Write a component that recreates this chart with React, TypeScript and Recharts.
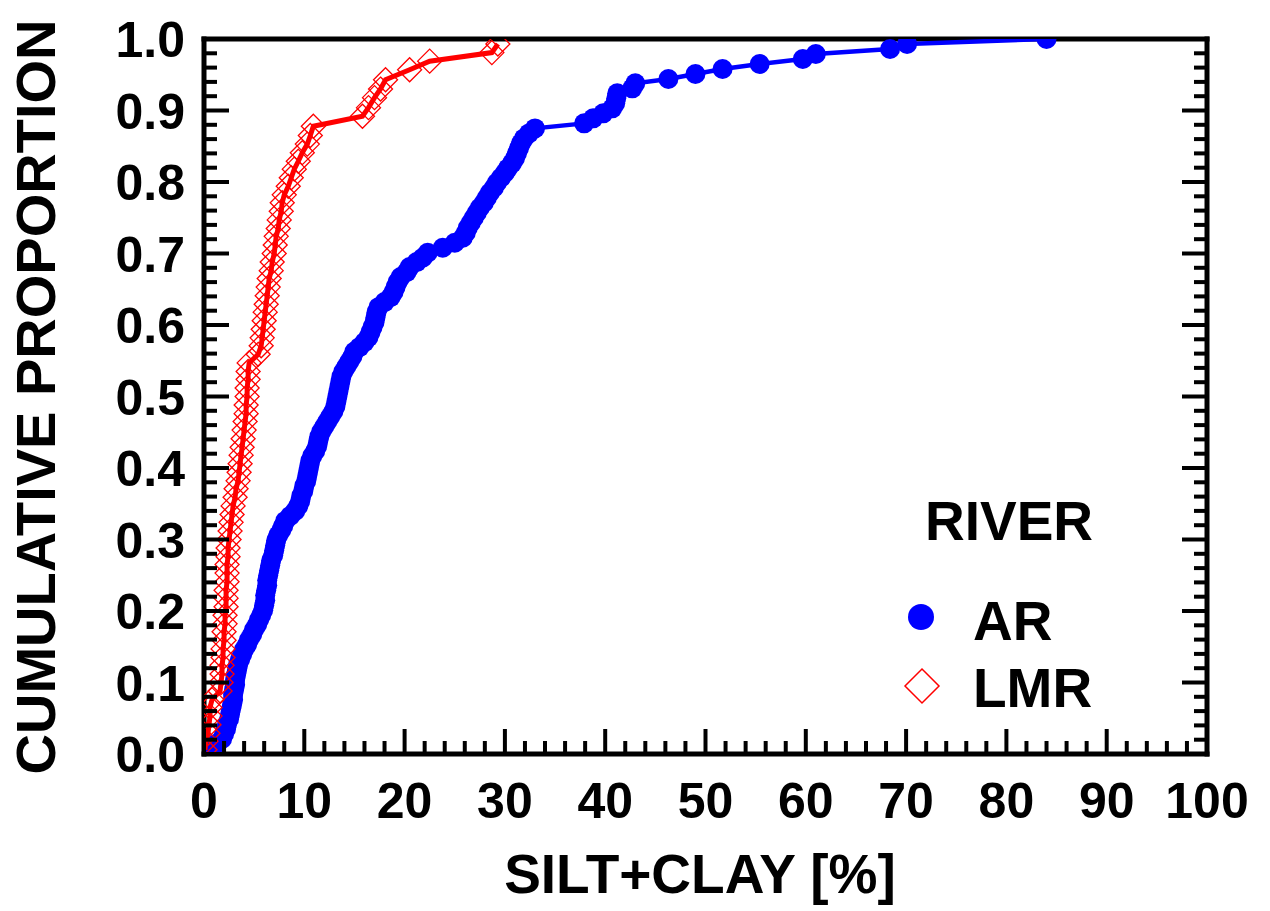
import { ScatterChart, Scatter, XAxis, YAxis, Label, Legend } from 'recharts';

// Cumulative distribution of silt+clay content by river
// AR  = filled blue circles, LMR = open red diamonds

const W = 1270;
const H = 911;
// plot box (px) — chosen to sit where the reference frame is
const LEFT = 204;
const RIGHT = 1207;
const TOP = 39;
const BOTTOM = 754;
// axis band sizes (must be > 0 or recharts skips drawing the axis)
const AX_B = 100;
const AX_T = 10;
const AX_L = 150;
const AX_R = 10;

const FONT = '"Liberation Sans", Arial, Helvetica, sans-serif';
const BLUE = '#0000ff';
const RED = '#ff0000';

const X_TICKS = Array.from({ length: 51 }, (_, i) => i * 2);
const Y_TICKS = Array.from({ length: 51 }, (_, i) => +(i * 0.02).toFixed(2));

// [silt+clay %, cumulative proportion]
const AR: [number, number][] = [
  [0.3, 0.007], [1.2, 0.014], [1.8, 0.021], [2.0, 0.028], [2.2, 0.035], [2.3, 0.042],
  [2.5, 0.049], [2.6, 0.056], [2.7, 0.063], [2.8, 0.069], [2.9, 0.076], [2.9, 0.083],
  [3.0, 0.09], [3.1, 0.097], [3.1, 0.104], [3.2, 0.111], [3.3, 0.118], [3.4, 0.125],
  [3.6, 0.132], [3.8, 0.139], [4.0, 0.146], [4.3, 0.153], [4.5, 0.16], [4.8, 0.167],
  [5.0, 0.174], [5.3, 0.181], [5.5, 0.188], [5.7, 0.194], [5.9, 0.201], [6.0, 0.208],
  [6.1, 0.215], [6.1, 0.222], [6.2, 0.229], [6.3, 0.236], [6.3, 0.243], [6.4, 0.25],
  [6.5, 0.257], [6.6, 0.264], [6.7, 0.271], [6.9, 0.278], [7.0, 0.285], [7.1, 0.292],
  [7.2, 0.299], [7.4, 0.306], [7.7, 0.313], [7.9, 0.319], [8.1, 0.326], [8.6, 0.333],
  [9.1, 0.34], [9.4, 0.347], [9.6, 0.354], [9.7, 0.361], [9.9, 0.368], [10.0, 0.375],
  [10.2, 0.382], [10.3, 0.389], [10.4, 0.396], [10.5, 0.403], [10.6, 0.41], [10.8, 0.417],
  [11.1, 0.424], [11.3, 0.431], [11.4, 0.438], [11.5, 0.444], [11.7, 0.451], [12.0, 0.458],
  [12.3, 0.465], [12.6, 0.472], [12.9, 0.479], [13.1, 0.486], [13.2, 0.493], [13.3, 0.5],
  [13.4, 0.507], [13.5, 0.514], [13.6, 0.521], [13.7, 0.528], [13.9, 0.535], [14.2, 0.542],
  [14.5, 0.549], [14.8, 0.556], [15.0, 0.563], [15.5, 0.569], [16.0, 0.576], [16.4, 0.583],
  [16.6, 0.59], [16.8, 0.597], [17.0, 0.604], [17.1, 0.611], [17.2, 0.618], [17.4, 0.625],
  [18.0, 0.632], [18.6, 0.639], [18.9, 0.646], [19.1, 0.653], [19.3, 0.66], [19.6, 0.667],
  [20.2, 0.674], [20.5, 0.681], [21.2, 0.688], [21.8, 0.694], [22.3, 0.701], [23.8, 0.708],
  [25.0, 0.715], [25.8, 0.722], [26.1, 0.729], [26.3, 0.736], [26.6, 0.743], [26.9, 0.75],
  [27.2, 0.757], [27.5, 0.764], [27.9, 0.771], [28.2, 0.778], [28.5, 0.785], [28.9, 0.792],
  [29.2, 0.799], [29.6, 0.806], [30.0, 0.813], [30.3, 0.819], [30.7, 0.826], [31.0, 0.833],
  [31.2, 0.84], [31.4, 0.847], [31.6, 0.854], [31.9, 0.861], [32.4, 0.868], [33.0, 0.875],
  [37.9, 0.882], [38.8, 0.889], [39.8, 0.896], [40.7, 0.903], [41.0, 0.91], [41.1, 0.917],
  [41.2, 0.924], [42.7, 0.931], [43.0, 0.938], [46.3, 0.944], [49.0, 0.951], [51.7, 0.958],
  [55.4, 0.965], [59.7, 0.972], [61.0, 0.979], [68.4, 0.986], [70.1, 0.993], [84.0, 1.0],
];

const LMR: [number, number][] = [
  [0.1, 0.006], [0.2, 0.018], [0.4, 0.029], [0.5, 0.041], [0.6, 0.053], [0.6, 0.065],
  [0.8, 0.076], [1.6, 0.088], [1.7, 0.1], [1.8, 0.112], [1.8, 0.124], [1.9, 0.135],
  [1.9, 0.147], [2.0, 0.159], [2.0, 0.171], [2.1, 0.182], [2.1, 0.194], [2.2, 0.206],
  [2.2, 0.218], [2.2, 0.229], [2.3, 0.241], [2.3, 0.253], [2.3, 0.265], [2.4, 0.276],
  [2.4, 0.288], [2.5, 0.3], [2.6, 0.312], [2.7, 0.324], [2.8, 0.335], [2.9, 0.347],
  [3.1, 0.359], [3.2, 0.371], [3.4, 0.382], [3.5, 0.394], [3.6, 0.406], [3.7, 0.418],
  [3.8, 0.429], [3.9, 0.441], [4.0, 0.453], [4.1, 0.465], [4.2, 0.476], [4.2, 0.488],
  [4.3, 0.5], [4.3, 0.512], [4.4, 0.524], [4.4, 0.535], [4.5, 0.547], [5.4, 0.559],
  [5.7, 0.571], [5.8, 0.582], [5.9, 0.594], [6.0, 0.606], [6.1, 0.618], [6.2, 0.629],
  [6.3, 0.641], [6.4, 0.653], [6.5, 0.665], [6.7, 0.676], [6.8, 0.688], [7.0, 0.7],
  [7.1, 0.712], [7.2, 0.724], [7.4, 0.735], [7.5, 0.747], [7.7, 0.759], [7.8, 0.771],
  [8.0, 0.782], [8.4, 0.794], [8.7, 0.806], [9.0, 0.818], [9.4, 0.829], [9.8, 0.841],
  [10.3, 0.853], [10.6, 0.865], [10.9, 0.878], [15.8, 0.892], [16.4, 0.904], [17.0, 0.918],
  [17.6, 0.93], [18.1, 0.943], [20.5, 0.957], [22.5, 0.969], [28.7, 0.981], [29.3, 0.993],
];

const arData = AR.map(([x, y]) => ({ x, y }));
const lmrData = LMR.map(([x, y]) => ({ x, y }));

const MAJOR_LEN = 25;
const MINOR_LEN = 13;
const TICK_W = 4;

const isMajorX = (v: number) => v % 10 === 0;
const isMajorY = (v: number) => Math.round(v * 100) % 10 === 0;

// Ticks point into the plot; labels sit outside (bottom / left only)
// eslint-disable-next-line @typescript-eslint/no-explicit-any
function BottomTick({ x, payload }: any) {
  const v = payload.value as number;
  const major = isMajorX(v);
  return (
    <g>
      <line x1={x} y1={BOTTOM} x2={x} y2={BOTTOM - (major ? MAJOR_LEN : MINOR_LEN)} stroke="#000" strokeWidth={TICK_W} />
      {major && (
        <text x={x} y={BOTTOM + 64} textAnchor="middle" fontSize={50} fontWeight="bold" fontFamily={FONT} fill="#000">
          {v}
        </text>
      )}
    </g>
  );
}

// eslint-disable-next-line @typescript-eslint/no-explicit-any
function TopTick({ x, payload }: any) {
  const major = isMajorX(payload.value);
  return <line x1={x} y1={TOP} x2={x} y2={TOP + (major ? MAJOR_LEN : MINOR_LEN)} stroke="#000" strokeWidth={TICK_W} />;
}

// eslint-disable-next-line @typescript-eslint/no-explicit-any
function LeftTick({ y, payload }: any) {
  const v = payload.value as number;
  const major = isMajorY(v);
  return (
    <g>
      <line x1={LEFT} y1={y} x2={LEFT + (major ? MAJOR_LEN : MINOR_LEN)} y2={y} stroke="#000" strokeWidth={TICK_W} />
      {major && (
        <text x={LEFT - 19} y={y + 18} textAnchor="end" fontSize={50} fontWeight="bold" fontFamily={FONT} fill="#000">
          {v.toFixed(1)}
        </text>
      )}
    </g>
  );
}

// eslint-disable-next-line @typescript-eslint/no-explicit-any
function RightTick({ y, payload }: any) {
  const major = isMajorY(payload.value);
  return <line x1={RIGHT} y1={y} x2={RIGHT - (major ? MAJOR_LEN : MINOR_LEN)} y2={y} stroke="#000" strokeWidth={TICK_W} />;
}

// eslint-disable-next-line @typescript-eslint/no-explicit-any
const Dot = ({ cx, cy }: any) => <circle cx={cx} cy={cy} r={10} fill={BLUE} />;

// eslint-disable-next-line @typescript-eslint/no-explicit-any
const Diamond = ({ cx, cy }: any) => (
  <polygon
    points={`${cx},${cy - 12} ${cx + 12},${cy} ${cx},${cy + 12} ${cx - 12},${cy}`}
    fill="none"
    stroke={RED}
    strokeWidth={1.3}
  />
);

function RiverLegend() {
  const txt = { fontSize: 55, fontWeight: 'bold' as const, fontFamily: FONT, fill: '#000' };
  return (
    <svg width={220} height={250}>
      <text x={35} y={60} {...txt}>RIVER</text>
      <circle cx={31} cy={137} r={13} fill={BLUE} />
      <text x={83} y={160} {...txt}>AR</text>
      <polygon points="32,189 49,206 32,223 15,206" fill="none" stroke={RED} strokeWidth={1.5} />
      <text x={83} y={227} {...txt}>LMR</text>
    </svg>
  );
}

const frame = { stroke: '#000', strokeWidth: 5, strokeLinecap: 'square' as const };

export default function App() {
  return (
    <div style={{ position: 'absolute', left: 0, top: 0, width: W, height: H, background: '#fff' }}>
      <ScatterChart
        width={W}
        height={H}
        margin={{ top: TOP - AX_T, right: W - RIGHT - AX_R, bottom: H - BOTTOM - AX_B, left: LEFT - AX_L }}
      >
        <XAxis
          xAxisId="b"
          type="number"
          dataKey="x"
          domain={[0, 100]}
          allowDataOverflow
          ticks={X_TICKS}
          interval={0}
          height={AX_B}
          tickSize={0}
          tickMargin={0}
          tickLine={false}
          axisLine={frame}
          tick={<BottomTick />}
        >
          <Label
            content={() => (
              <text x={700} y={893} textAnchor="middle" fontSize={55} fontWeight="bold" fontFamily={FONT} fill="#000">
                SILT+CLAY [%]
              </text>
            )}
          />
        </XAxis>
        <XAxis
          xAxisId="t"
          orientation="top"
          type="number"
          domain={[0, 100]}
          allowDataOverflow
          ticks={X_TICKS}
          interval={0}
          height={AX_T}
          tickSize={0}
          tickMargin={0}
          tickLine={false}
          axisLine={frame}
          tick={<TopTick />}
        />
        <YAxis
          yAxisId="l"
          type="number"
          dataKey="y"
          domain={[0, 1]}
          allowDataOverflow
          ticks={Y_TICKS}
          interval={0}
          width={AX_L}
          tickSize={0}
          tickMargin={0}
          tickLine={false}
          axisLine={frame}
          tick={<LeftTick />}
        >
          <Label
            content={() => (
              <text
                x={55}
                y={397}
                transform="rotate(-90 55 397)"
                textAnchor="middle"
                fontSize={56}
                fontWeight="bold"
                fontFamily={FONT}
                fill="#000"
              >
                CUMULATIVE PROPORTION
              </text>
            )}
          />
        </YAxis>
        <YAxis
          yAxisId="r"
          orientation="right"
          type="number"
          domain={[0, 1]}
          allowDataOverflow
          ticks={Y_TICKS}
          interval={0}
          width={AX_R}
          tickSize={0}
          tickMargin={0}
          tickLine={false}
          axisLine={frame}
          tick={<RightTick />}
        />

        <Scatter
          name="AR"
          data={arData}
          xAxisId="b"
          yAxisId="l"
          line={{ stroke: BLUE, strokeWidth: 4.5 }}
          shape={<Dot />}
          isAnimationActive={false}
        />
        <Scatter
          name="LMR"
          data={lmrData}
          xAxisId="b"
          yAxisId="l"
          line={{ stroke: RED, strokeWidth: 5 }}
          shape={<Diamond />}
          isAnimationActive={false}
        />

        {/* centre/middle keeps recharts from reserving room for the legend */}
        <Legend
          layout="horizontal"
          verticalAlign="middle"
          align="center"
          wrapperStyle={{ position: 'absolute', left: 890, top: 480, width: 220, height: 250 }}
          content={<RiverLegend />}
        />
      </ScatterChart>
    </div>
  );
}
